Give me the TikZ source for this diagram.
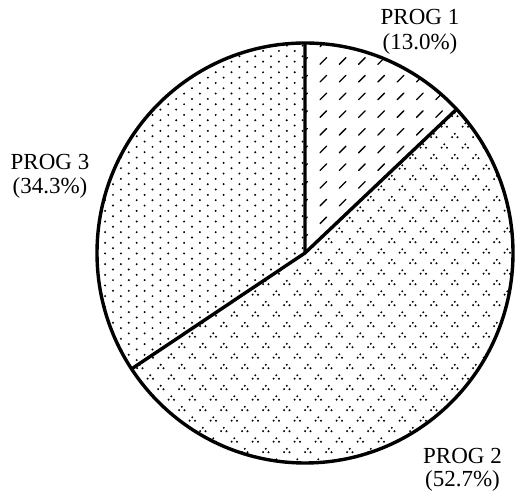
\documentclass[tikz,border=0pt]{standalone}
\usepackage{fontspec}
\setmainfont{Liberation Serif}
\begin{document}
\begin{tikzpicture}[x=1pt,y=1pt,
  outline/.style={line width=3.4pt,line join=round},
  lbl/.style={anchor=base,inner sep=0pt,font=\fontsize{23}{24}\selectfont},
  slash/.style={line width=1.3pt,line cap=round}]
\useasboundingbox (0,0) rectangle (516,497);
\coordinate (C) at (305,244);
\coordinate (T) at (305,454);
\coordinate (A) at (456.6,387.8);
\coordinate (B) at (131.6,128.1);
% PROG 1 pattern: slashes
\begin{scope}
\clip (C) -- (T) arc[start angle=90,end angle=43.2,x radius=208,y radius=210] -- cycle;
\foreach \j in {-1,...,11}{
  \foreach \i in {-1,...,8}{
    \draw[slash] ({323.3+19.3*\i-3.3},{497-61-17.7*\j-3.3}) -- ++(6.6,6.6);
  }
}
\end{scope}
% PROG 2 pattern: triangle clusters
\begin{scope}
\clip (C) -- (A) arc[start angle=43.2,end angle=-146.5,x radius=208,y radius=210] -- cycle;
\foreach \j in {0,...,35}{
  \foreach \i in {0,...,21}{
    \pgfmathsetmacro\cx{87.3+21*\i+10.5*mod(\j,2)}
    \pgfmathsetmacro\cy{497-104-10.5*\j}
    \fill (\cx,\cy+1.7) circle (1.1);
    \fill (\cx-2.7,\cy-1.7) circle (1.1);
    \fill (\cx+2.7,\cy-1.7) circle (1.1);
  }
}
\end{scope}
% PROG 3 pattern: fine dots
\begin{scope}
\clip (C) -- (B) arc[start angle=213.5,end angle=90,x radius=208,y radius=210] -- cycle;
\foreach \j in {0,...,62}{
  \foreach \i in {0,...,14}{
    \fill ({89.3+15.8*\i+7.9*mod(\j,2)},{497-40.3-5.33*\j}) circle (1.1);
  }
}
\end{scope}
% outlines
\draw[outline] (C) ellipse[x radius=208,y radius=210];
\draw[outline] (T) -- (C) -- (A);
\draw[outline] (C) -- (B);
% labels
\node[lbl] (p1a) at (420,472) {PROG 1};
\node[lbl] (p1b) at (420,447.7) {(13.0\%)};
\node[lbl] (p3a) at (50,327.7) {PROG 3};
\node[lbl] (p3b) at (50,303.7) {(34.3\%)};
\node[lbl] (p2a) at (462.5,33.7) {PROG 2};
\node[lbl] (p2b) at (462.5,10.3) {(52.7\%)};
\end{tikzpicture}
\end{document}
